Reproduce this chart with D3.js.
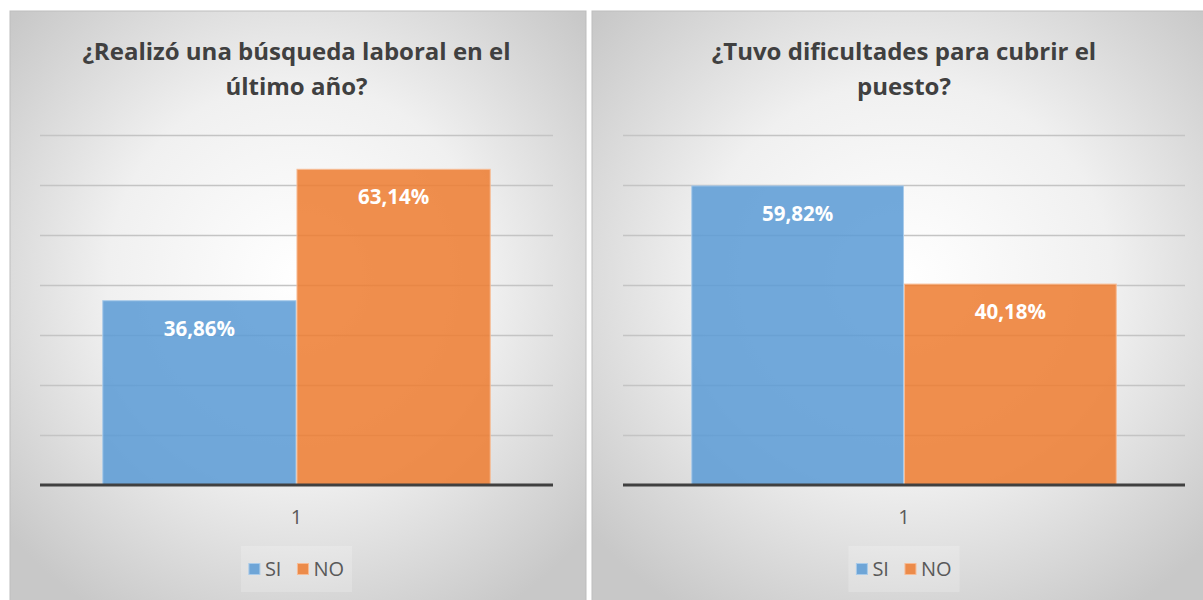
<!DOCTYPE html>
<html>
<head>
<meta charset="utf-8">
<script src="https://cdn.jsdelivr.net/npm/d3@7"></script>
<style>
  body { margin: 0; background: #ffffff; }
  svg { display: block; }
  .title { font-family: "Open Sans", Lato, sans-serif; font-weight: bold; fill: #404040; }
  .lbl { font-family: "Open Sans", Lato, sans-serif; font-weight: bold; fill: #ffffff; }
  .tick text, .legend text { font-family: "Open Sans", Lato, sans-serif; fill: #595959; }
</style>
</head>
<body>
<div class="chart"></div>
<script>
const width = 1203,
      height = 600;

// data
const series = ["SI", "NO"];
const categories = ["1"];
const titleBusqueda = ["¿Realizó una búsqueda laboral en el", "último año?"];
const titleDificultad = ["¿Tuvo dificultades para cubrir el", "puesto?"];
const valuesBusqueda = [36.86, 63.14];
const valuesDificultad = [59.82, 40.18];
const labelsBusqueda = ["36,86%", "63,14%"];
const labelsDificultad = ["59,82%", "40,18%"];
const gridTicks = [0, 10, 20, 30, 40, 50, 60, 70];

const colors = d3.scaleOrdinal().domain(series).range(["#5b9bd5", "#ed7d31"]);
const strokes = d3.scaleOrdinal().domain(series).range(["#a9cbea", "#f7bc95"]);

const svg = d3.select(".chart")
              .append("svg")
              .attr("width", width)
              .attr("height", height)
              .attr("viewBox", [0, 0, width, height]);

var defs = svg.append("defs");
var grad = defs.append("radialGradient")
               .attr("id", "bg")
               .attr("cx", "50%").attr("cy", "45%").attr("r", "66%");
grad.append("stop").attr("offset", "0%").attr("stop-color", "#ffffff");
grad.append("stop").attr("offset", "50%").attr("stop-color", "#f0f0f0");
grad.append("stop").attr("offset", "100%").attr("stop-color", "#c8c8c8");

// panel boxes and plot extents
build_panel({x: 10, w: 576, left: 40, right: 553}, titleBusqueda, valuesBusqueda, labelsBusqueda);
build_panel({x: 592, w: 626, left: 623, right: 1185}, titleDificultad, valuesDificultad, labelsDificultad);

function build_panel(p, title, values, labels){
    var g = svg.append("g").classed("panel", true);
    var top = 11, bottom = 485;

    g.append("rect")
     .attr("x", p.x).attr("y", top)
     .attr("width", p.w).attr("height", height - top + 5)
     .attr("fill", "url(#bg)")
     .attr("stroke", "#bdbdbd")
     .attr("stroke-width", 1);

    var y = d3.scaleLinear().domain([0, 70]).range([bottom, 135]);
    var x = d3.scaleBand().domain(categories).range([p.left, p.right]).paddingOuter(0.162).paddingInner(0);
    var xs = d3.scaleBand().domain(series).range([0, x.bandwidth()]).paddingInner(0.005);

    // gridlines
    var grid = g.append("g")
                .attr("transform", "translate(" + p.left + ",0)")
                .call(d3.axisLeft(y).tickValues(gridTicks.slice(1)).tickSize(-(p.right - p.left)).tickFormat(""));
    grid.select(".domain").remove();
    grid.selectAll(".tick line").attr("stroke", "#c4c4c4").attr("stroke-width", 1.5);

    // bars
    var data = series.map(function(s, i){ return {s: s, v: values[i], t: labels[i]}; });
    var cx = x(categories[0]);
    g.selectAll("rect.bar").data(data).enter().append("rect").classed("bar", true)
     .attr("x", function(d){ return cx + xs(d.s); })
     .attr("y", function(d){ return y(d.v); })
     .attr("width", xs.bandwidth())
     .attr("height", function(d){ return y(0) - y(d.v); })
     .attr("fill", function(d){ return colors(d.s); })
     .attr("fill-opacity", 0.86)
     .attr("stroke", function(d){ return strokes(d.s); })
     .attr("stroke-width", 1);

    g.selectAll("text.lbl").data(data).enter().append("text").classed("lbl", true)
     .attr("x", function(d){ return cx + xs(d.s) + xs.bandwidth() / 2; })
     .attr("y", function(d){ return y(d.v) + 28; })
     .attr("dy", "0.35em")
     .attr("text-anchor", "middle")
     .style("font-size", "20.5px")
     .text(function(d){ return d.t; });

    // baseline
    g.append("line")
     .attr("x1", p.left).attr("x2", p.right)
     .attr("y1", y(0)).attr("y2", y(0))
     .attr("stroke", "#404040").attr("stroke-width", 3);

    // category axis
    var ax = g.append("g")
              .attr("transform", "translate(0," + (bottom + 32) + ")")
              .call(d3.axisBottom(x).tickSize(0));
    ax.select(".domain").remove();
    ax.selectAll(".tick text").style("font-size", "20px").attr("y", 0).attr("dy", "0.35em");

    // title
    var mid = (p.left + p.right) / 2;
    g.append("text").classed("title", true)
     .attr("x", mid).attr("y", 52)
     .attr("text-anchor", "middle")
     .style("font-size", "24px")
     .selectAll("tspan").data(title).enter().append("tspan")
     .attr("x", mid)
     .attr("dy", function(d, i){ return i == 0 ? "0.35em" : "35px"; })
     .text(function(d){ return d; });

    // legend
    var lg = g.append("g").classed("legend", true);
    var items = lg.selectAll("g").data(series).enter().append("g");
    items.append("rect")
         .attr("width", 11).attr("height", 11)
         .attr("y", -5.5)
         .attr("fill", function(d){ return colors(d); })
         .attr("fill-opacity", 0.86)
         .attr("stroke", function(d){ return strokes(d); });
    items.append("text")
         .attr("x", 16).attr("dy", "0.35em")
         .style("font-size", "20px")
         .text(function(d){ return d; });
    var off = 0, gap = 16;
    items.each(function(){
        var w = this.getBBox().width;
        d3.select(this).attr("transform", "translate(" + off + ",0)");
        off += w + gap;
    });
    var total = off - gap;
    lg.insert("rect", ":first-child")
      .attr("x", -8).attr("y", -23)
      .attr("width", total + 16).attr("height", 46)
      .attr("fill", "#ffffff").attr("fill-opacity", 0.2);
    lg.attr("transform", "translate(" + (mid - total / 2) + ",569)");
};
</script>
</body>
</html>
